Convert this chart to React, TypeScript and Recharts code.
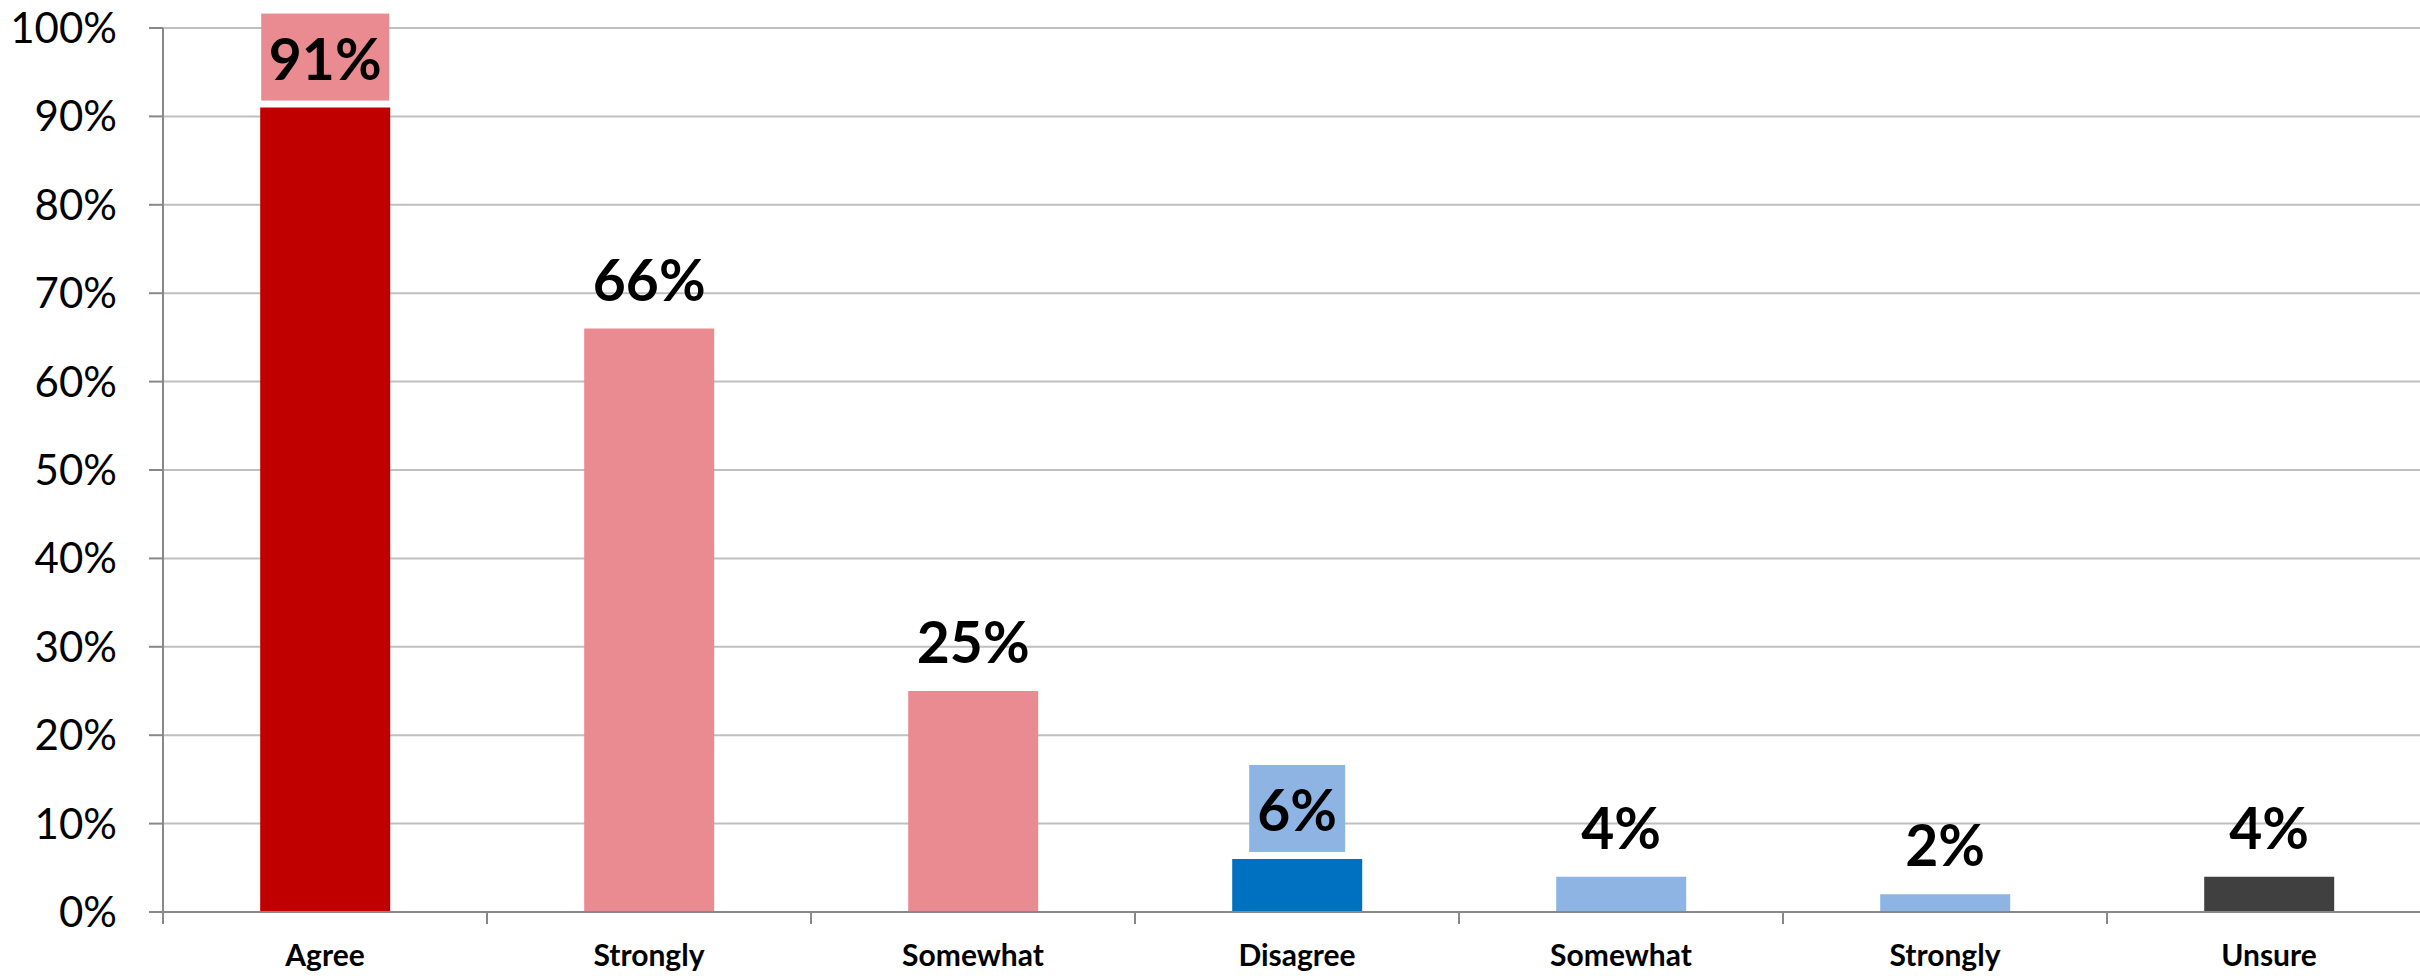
import { BarChart, Bar, XAxis, YAxis, CartesianGrid, Cell, LabelList } from "recharts"

const categories = ["Agree", "Strongly", "Somewhat", "Disagree", "Somewhat", "Strongly", "Unsure"]
const shares = [91, 66, 25, 6, 4, 2, 4]
const barColors = ["#C00000", "#EA8B92", "#EA8B92", "#0070C0", "#8EB4E3", "#8EB4E3", "#404040"]
const labelBoxColors: (string | null)[] = ["#EA8B92", null, null, "#8EB4E3", null, null, null]
const yTicks = [0, 10, 20, 30, 40, 50, 60, 70, 80, 90, 100]

const data = categories.map((name, i) => ({ name, value: shares[i] }))

const axisGray = "#888888"
const font = "Lato, 'Open Sans', sans-serif"

// category labels plus Excel-style tick marks between categories
function CategoryTick(props: any) {
  const { x, y, payload, index } = props
  const half = payload?.offset ?? 162
  const isLast = index === categories.length - 1
  return (
    <g>
      <line x1={x - half} x2={x - half} y1={y} y2={y + 12} stroke={axisGray} strokeWidth={2} />
      {isLast && <line x1={x + half} x2={x + half} y1={y} y2={y + 12} stroke={axisGray} strokeWidth={2} />}
      <text x={x} y={y + 54} textAnchor="middle" fontFamily={font} fontWeight={700} fontSize={30} fill="#000">
        {payload.value}
      </text>
    </g>
  )
}

function ValueLabel(props: any) {
  const { x, y, width, value, index } = props
  const cx = x + width / 2
  const box = labelBoxColors[index]
  const boxW = String(value).length * 32 + 64
  return (
    <g>
      {box && <rect x={cx - boxW / 2} y={y - 94} width={boxW} height={87} fill={box} />}
      <text x={cx} y={y - 28} textAnchor="middle" fontFamily={font} fontWeight={700} fontSize={57} fill="#000">
        {`${value}%`}
      </text>
    </g>
  )
}

export default function App() {
  return (
    <div style={{ position: "absolute", left: 0, top: 0, width: 2420, height: 976, overflow: "hidden", background: "#fff" }}>
      <BarChart
        width={2432}
        height={976}
        data={data}
        margin={{ top: 28, right: 1, left: 0, bottom: 0 }}
        barCategoryGap="30%"
      >
        <CartesianGrid vertical={false} stroke="#BFBFBF" strokeWidth={2} />
        <XAxis
          dataKey="name"
          height={64}
          axisLine={{ stroke: axisGray, strokeWidth: 2 }}
          tickLine={false}
          tickSize={0}
          tickMargin={0}
          interval={0}
          tick={<CategoryTick />}
        />
        <YAxis
          width={163}
          domain={[0, 100]}
          ticks={yTicks}
          interval={0}
          tickFormatter={(v: number) => `${v}%`}
          axisLine={{ stroke: axisGray, strokeWidth: 2 }}
          tickLine={{ stroke: axisGray, strokeWidth: 2 }}
          tickSize={14}
          tickMargin={32}
          tick={{ fill: "#000", fontSize: 42, fontFamily: font }}
        />
        <Bar dataKey="value" isAnimationActive={false}>
          {data.map((d, i) => (
            <Cell key={i} fill={barColors[i]} />
          ))}
          <LabelList dataKey="value" content={<ValueLabel />} />
        </Bar>
      </BarChart>
    </div>
  )
}
